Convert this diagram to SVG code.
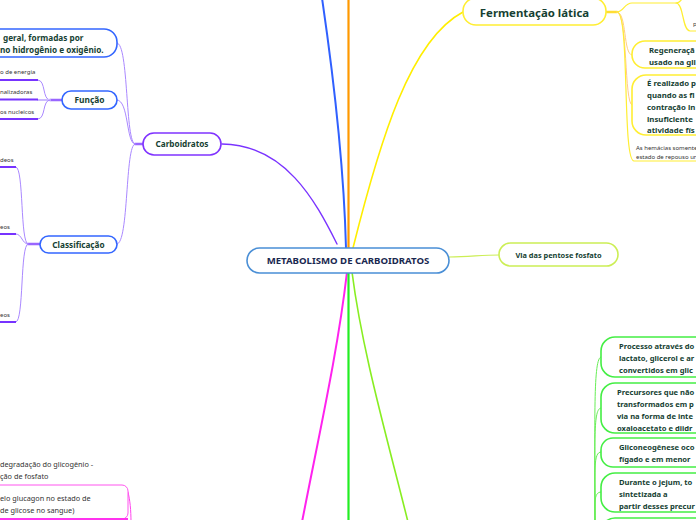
<svg xmlns="http://www.w3.org/2000/svg" width="696" height="520" viewBox="0 0 696 520">
<style>
  text { font-family: "Noto Sans", "Open Sans", "DejaVu Sans", sans-serif; }
  .b { font-weight: bold; fill: #163f33; }
  .s { font-size: 6px; fill: #333333; }
  .r { font-size: 7.3px; fill: #333333; }
  .c { fill: none; stroke-linecap: round; }
  .node { fill: #ffffff; stroke-width: 1.6; }
</style>
<rect width="696" height="520" fill="#ffffff"/>

<g id="connectors">
  <!-- main branches -->
  <path class="c" d="M346,248 C344,170 334,80 322,-2" stroke="#3060ff" stroke-width="2"/>
  <path class="c" d="M348.5,248 L348.5,-2" stroke="#ff9900" stroke-width="2.2"/>
  <path class="c" d="M353,248 C380,140 410,40 463,12" stroke="#ffee00" stroke-width="1.6"/>
  <path class="c" d="M337,244 C315,200 285,145 222,144" stroke="#7a33ff" stroke-width="1.4"/>
  <path class="c" d="M347,272 C338,350 320,430 302,522" stroke="#ff22ee" stroke-width="2"/>
  <path class="c" d="M348.5,272 L348.5,522" stroke="#22ee22" stroke-width="2.2"/>
  <path class="c" d="M352,272 C362,350 385,430 408,522" stroke="#88ee22" stroke-width="1.6"/>
  <path class="c" d="M449,257 C470,257 480,255 499,255" stroke="#ccee55" stroke-width="1.2"/>

  <!-- Carboidratos children -->
  <path class="c" d="M143,144 L135,144" stroke="#9966ff" stroke-width="2.4"/>
  <path class="c" d="M135,144 C125,144 129,43 117,43" stroke="#aa88ff" stroke-width="1"/>
  <path class="c" d="M135,144 C126,144 129,100 117,100" stroke="#aa88ff" stroke-width="1"/>
  <path class="c" d="M135,144 C125,144 129,244 117,244" stroke="#aa88ff" stroke-width="1"/>

  <!-- Função children -->
  <path class="c" d="M62,100 L50,100" stroke="#9966ff" stroke-width="2.4"/>
  <path class="c" d="M50,100 C42,100 46,80 38,80" stroke="#aa88ff" stroke-width="1"/>
  <path class="c" d="M50,100 L38,100" stroke="#ccbbff" stroke-width="2"/>
  <path class="c" d="M50,100 C42,100 46,119 38,119" stroke="#aa88ff" stroke-width="1"/>
  <path d="M0,80 L38,80 M0,99.5 L38,99.5 M0,119 L38,119" stroke="#7733ff" stroke-width="2" fill="none"/>

  <!-- Classificação children -->
  <path class="c" d="M40,244 L28,244" stroke="#9966ff" stroke-width="2.4"/>
  <path class="c" d="M28,244 C20,244 24,167 16,167" stroke="#aa88ff" stroke-width="1"/>
  <path class="c" d="M28,244 C22,244 22,234 16,234" stroke="#aa88ff" stroke-width="1"/>
  <path class="c" d="M28,244 C20,244 24,322 16,322" stroke="#aa88ff" stroke-width="1"/>
  <path d="M0,167 L16,167 M0,234 L16,234 M0,322 L16,322" stroke="#7733ff" stroke-width="2" fill="none"/>

  <!-- Fermentação children -->
  <path class="c" d="M606,12 L617,12" stroke="#ffdd33" stroke-width="2.4"/>
  <path class="c" d="M617,12 C624,12 624,3 632,3 L676,3 C681,3 682,-2 684,-4" stroke="#ffee33" stroke-width="1.2"/>
  <path class="c" d="M676,3 C684,3 682,31 690,31 L698,31" stroke="#ffee33" stroke-width="1.2"/>
  <path class="c" d="M617,12 C627,12 623,55 632,55" stroke="#ffd080" stroke-width="1"/>
  <path class="c" d="M617,12 C628,12 624,105 632,105" stroke="#ffc890" stroke-width="1"/>
  <path class="c" d="M617,12 C630,12 622,161 634,161 L698,161" stroke="#ffee33" stroke-width="1.2"/>

  <!-- Gliconeogênese children -->
  <path class="c" d="M595,525 C595,420 593,357 601,357" stroke="#66ee55" stroke-width="1"/>
  <path class="c" d="M595,525 C595,440 593,408 601,408" stroke="#66ee55" stroke-width="1"/>
  <path class="c" d="M595,525 C595,470 593,452 601,452" stroke="#66ee55" stroke-width="1"/>
  <path class="c" d="M595,525 C595,505 593,492 601,492" stroke="#66ee55" stroke-width="1"/>

  <!-- magenta bottom-left -->
  <path class="c" d="M128,492 C130,500 131,510 131,522" stroke="#ff44ee" stroke-width="1"/>
</g>

<g id="center">
  <rect class="node" x="247" y="248" width="202" height="25" rx="12.5" stroke="#4a8fd6"/>
  <text class="b" x="348" y="264" font-size="9.6" text-anchor="middle" fill="#1a2850" style="fill:#1a2850">METABOLISMO DE CARBOIDRATOS</text>
</g>

<g id="via-pentose">
  <rect class="node" x="499" y="243" width="119" height="23" rx="11.5" stroke="#ccee55" stroke-width="1.2"/>
  <text class="b" x="558.5" y="257.5" font-size="7.4" text-anchor="middle">Via das pentose fosfato</text>
</g>

<g id="carboidratos">
  <rect class="node" x="143" y="133" width="78" height="22" rx="11" stroke="#8033ff"/>
  <text class="b" x="182" y="147" font-size="8.2" text-anchor="middle">Carboidratos</text>
</g>

<g id="definicao">
  <rect class="node" x="-40" y="29" width="157" height="28" rx="13" stroke="#3366ff"/>
  <text class="b" font-size="8.2"><tspan x="3" y="41">geral, formadas por</tspan><tspan x="0" y="53">no hidrogênio e oxigênio.</tspan></text>
</g>

<g id="funcao">
  <rect class="node" x="62" y="91" width="55" height="18" rx="9" stroke="#3366ff"/>
  <text class="b" x="89.5" y="103" font-size="8.4" text-anchor="middle">Função</text>
  <text class="s" x="0" y="74">o de energia</text>
  <text class="s" x="0" y="94">nalizadoras</text>
  <text class="s" x="0" y="114">os nucleicos</text>
</g>

<g id="classificacao">
  <rect class="node" x="40" y="236" width="77" height="17" rx="8.5" stroke="#3366ff"/>
  <text class="b" x="78.5" y="247.5" font-size="8.2" text-anchor="middle">Classificação</text>
  <text class="s" x="0" y="162">deos</text>
  <text class="s" x="0" y="229">eos</text>
  <text class="s" x="0" y="317">eos</text>
</g>

<g id="fermentacao">
  <rect class="node" x="463" y="-2" width="143" height="27" rx="13" stroke="#ffee33"/>
  <text class="b" x="534.5" y="17" font-size="11.4" text-anchor="middle">Fermentação lática</text>
  <text class="s" x="693" y="26">p</text>
</g>

<g id="regeneracao">
  <rect class="node" x="632" y="41" width="90" height="27" rx="13" stroke="#ffee33"/>
  <text class="b" font-size="7.8"><tspan x="649" y="53">Regeneraçã</tspan><tspan x="649" y="65">usado na gli</tspan></text>
</g>

<g id="realizado">
  <rect class="node" x="632" y="75" width="90" height="60" rx="14" stroke="#ffee33"/>
  <text class="b" font-size="7.8"><tspan x="647" y="86">É realizado p</tspan><tspan x="647" y="98">quando as fi</tspan><tspan x="647" y="110">contração in</tspan><tspan x="647" y="122">insuficiente</tspan><tspan x="647" y="133">atividade fís</tspan></text>
</g>

<g id="hemacias">
  <text class="s" font-size="5.8"><tspan x="636" y="150">As hemácias somente</tspan><tspan x="636" y="159">estado de repouso ur</tspan></text>
</g>

<g id="glico-1">
  <rect class="node" x="601" y="337" width="110" height="40" rx="14" stroke="#44ee44" stroke-width="1.2"/>
  <text class="b" font-size="7.6"><tspan x="619" y="349">Processo através do</tspan><tspan x="619" y="361">lactato, glicerol e ar</tspan><tspan x="619" y="373">convertidos em glic</tspan></text>
</g>
<g id="glico-2">
  <rect class="node" x="601" y="383" width="110" height="50" rx="14" stroke="#44ee44" stroke-width="1.2"/>
  <text class="b" font-size="7.6"><tspan x="617" y="395">Precursores que não</tspan><tspan x="617" y="407">transformados em p</tspan><tspan x="617" y="419">via na forma de inte</tspan><tspan x="617" y="431">oxaloacetato e diidr</tspan></text>
</g>
<g id="glico-3">
  <rect class="node" x="601" y="438" width="110" height="29" rx="12" stroke="#44ee44" stroke-width="1.2"/>
  <text class="b" font-size="7.6"><tspan x="619" y="450">Gliconeogênese oco</tspan><tspan x="619" y="462">fígado e em menor</tspan></text>
</g>
<g id="glico-4">
  <rect class="node" x="601" y="473" width="110" height="39" rx="14" stroke="#44ee44" stroke-width="1.2"/>
  <text class="b" font-size="7.6"><tspan x="619" y="485">Durante o jejum, to</tspan><tspan x="619" y="497">sintetizada a</tspan><tspan x="619" y="509">partir desses precur</tspan></text>
</g>
<g id="glico-5">
  <rect class="node" x="601" y="518" width="110" height="30" rx="14" stroke="#44ee44" stroke-width="1.2"/>
</g>

<g id="glicogenio">
  <text class="r"><tspan x="0" y="467">degradação do glicogênio  -</tspan><tspan x="0" y="479">ção de fosfato</tspan></text>
</g>
<g id="glucagon">
  <rect x="-20" y="485" width="148" height="34" rx="6" fill="#ffffff" stroke="#ff55ee" stroke-width="1"/>
  <path d="M0,519 L128,519" stroke="#ff33ee" stroke-width="2" fill="none"/>
  <text class="r"><tspan x="0" y="501">elo glucagon no estado de</tspan><tspan x="0" y="513">de glicose no sangue)</tspan></text>
</g>
</svg>
